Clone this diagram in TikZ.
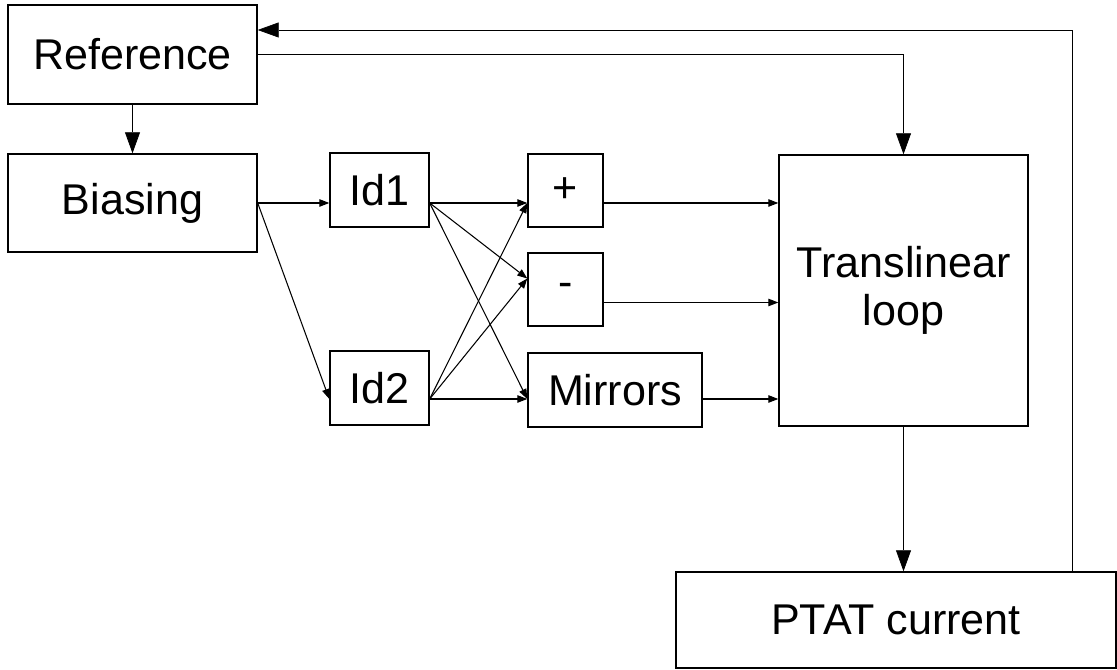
\documentclass[tikz,border=0pt]{standalone}
\usepackage{fontspec}
\setmainfont{Liberation Sans}
\usetikzlibrary{arrows.meta,positioning,calc}

\begin{document}
\begin{tikzpicture}[
  block/.style={draw, line width=0.8pt, align=center, inner sep=0pt,
                font=\fontsize{24.5}{27}\selectfont},
  sig arrow/.style={-{Triangle[length=0.2cm, width=0.15cm]}, line width=0.6pt},
  ctrl arrow/.style={-{Triangle[length=0.42cm, width=0.3cm]}, line width=0.4pt}
]
  \useasboundingbox (0,0) rectangle (22.34,13.4);

  % blocks
  \node[block, minimum width=4.98cm, minimum height=1.98cm] (ref) at (2.65,12.31) {Reference};
  \node[block, minimum width=4.98cm, minimum height=1.96cm] (bias) at (2.65,9.34) {Biasing};
  \node[block, minimum width=1.98cm, minimum height=1.48cm] (id1) at (7.59,9.6) {Id1};
  \node[block, minimum width=1.98cm, minimum height=1.48cm] (id2) at (7.59,5.64) {Id2};
  \node[block, minimum width=1.5cm, minimum height=1.46cm] (plus) at (11.31,9.59) {+};
  \node[block, minimum width=1.5cm, minimum height=1.46cm] (minus) at (11.31,7.61) {-};
  \node[block, minimum width=3.48cm, minimum height=1.48cm] (mir) at (12.3,5.6) {Mirrors};
  \node[block, minimum width=4.98cm, minimum height=5.42cm] (tl) at (18.07,7.59) {Translinear\\loop};
  \node[block, minimum width=8.8cm, minimum height=1.92cm] (ptat) at (17.92,1.0) {PTAT current};

  % ports
  \coordinate (o1) at (id1.east |- bias.east);
  \coordinate (o2) at ([yshift=-0.22cm]id2.east);
  \coordinate (pin) at (plus.west |- o1);
  \coordinate (min) at ([yshift=0.22cm]minus.west);
  \coordinate (rin) at (mir.west |- o2);
  \coordinate (fb) at (21.44,12.8);

  % reference and feedback
  \draw[ctrl arrow] (ref) -- (bias);
  \draw[ctrl arrow] (ref.east) -| (tl.north);
  \draw[ctrl arrow] (tl.south) -- (tl.south |- ptat.north);
  \draw[ctrl arrow] (ptat.north -| fb) |- (fb -| ref.east);

  % biasing currents
  \draw[sig arrow] (bias.east) -- (bias.east -| id1.west);
  \draw[sig arrow] (bias.east) -- ([yshift=-0.22cm]id2.west);
  \foreach \s in {o1,o2}
    \foreach \t in {pin,min,rin}
      \draw[sig arrow] (\s) -- (\t);

  % into the loop
  \draw[sig arrow] (o1 -| plus.east) -- (o1 -| tl.west);
  \draw[sig arrow] ([yshift=-0.26cm]minus.east) -- ([yshift=-0.26cm]minus.east -| tl.west);
  \draw[sig arrow] (o2 -| mir.east) -- (o2 -| tl.west);
\end{tikzpicture}
\end{document}
